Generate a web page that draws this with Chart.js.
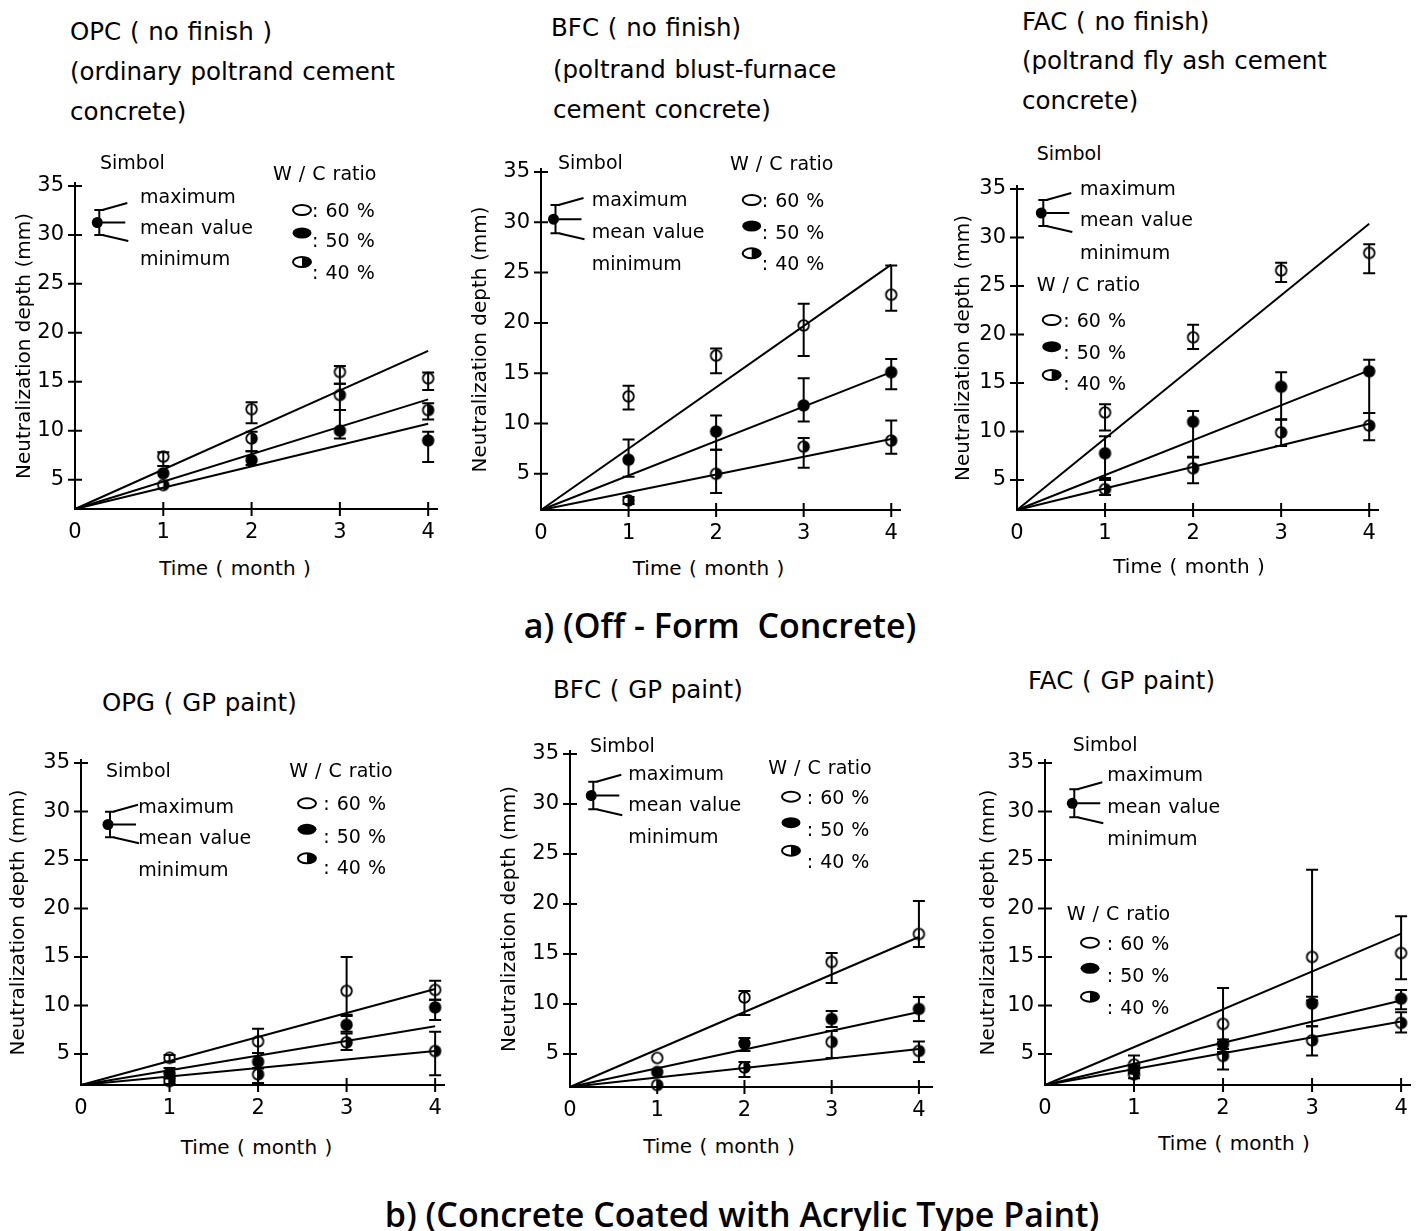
<!DOCTYPE html>
<html lang="en">
<head>
<meta charset="UTF-8" />
<title>Neutralization depth against time</title>
<script src="https://cdn.jsdelivr.net/npm/chart.js"></script>
<style>
  body { margin: 0; background: #fff; }
  #page { position: relative; width: 1420px; height: 1231px; overflow: hidden;
          font-family: "DejaVu Sans", sans-serif; color: #000; }
  #page canvas { position: absolute; }
  .txt { position: absolute; line-height: 1; white-space: pre; transform: translateY(-50%); }
  .ttl { font-size: 24.5px; word-spacing: 1px; }
  .leg { font-size: 19px; word-spacing: 1px; }
  .axt { font-size: 20px; word-spacing: 1px; transform: translate(-50%, -50%); }
  .cap { font-family: "Open Sans", sans-serif; font-weight: 600; font-size: 34px;
         transform: translate(-50%, -50%); }
  #glyphs { position: absolute; left: 0; top: 0; z-index: 2; }
</style>
</head>
<body>
<div id="page">
  <svg id="glyphs" width="1420" height="1231"></svg>
</div>

<script>
// ---- values ----
const months = [1, 2, 3, 4];
const xTicks = [0, 1, 2, 3, 4];
const yTicks = [5, 10, 15, 20, 25, 30, 35];
const ratioLabels = [": 60 %", ": 50 %", ": 40 %"];

// a) OPC (no finish)
const opcN_mean60 = [7.35, 12.2, 16.0, 15.35];
const opcN_max60  = [7.8, 12.9, 16.6, 15.95];
const opcN_min60  = [6.4, 10.75, 14.8, 14.15];
const opcN_mean50 = [5.65, 7.0, 10.0, 9.0];
const opcN_max50  = [5.65, 7.9, 12.1, 9.9];
const opcN_min50  = [5.65, 6.5, 9.2, 6.8];
const opcN_mean40 = [4.45, 9.2, 13.65, 12.1];
const opcN_max40  = [4.45, 9.9, 14.8, 12.8];
const opcN_min40  = [4.45, 7.9, 12.1, 11.15];
const opcN_fit    = [18.15, 13.2, 10.7];

// a) BFC (no finish)
const bfcN_mean60 = [12.7, 16.75, 19.75, 22.8];
const bfcN_max60  = [13.75, 17.45, 21.9, 25.7];
const bfcN_min60  = [11.4, 15.0, 16.7, 21.2];
const bfcN_mean50 = [6.4, 9.2, 11.8, 15.1];
const bfcN_max50  = [8.4, 10.8, 14.5, 16.4];
const bfcN_min50  = [4.7, 7.4, 10.2, 13.4];
const bfcN_mean40 = [2.35, 5.0, 7.7, 8.3];
const bfcN_max40  = [2.7, 7.4, 8.55, 10.3];
const bfcN_min40  = [2.0, 3.1, 5.6, 7.0];
const bfcN_fit    = [25.8, 15.1, 8.45];

// a) FAC (no finish)
const facN_mean60 = [11.95, 19.7, 26.6, 28.4];
const facN_max60  = [12.8, 21.0, 27.4, 29.3];
const facN_min60  = [10.1, 18.5, 25.4, 26.3];
const facN_mean50 = [7.75, 11.0, 14.6, 16.2];
const facN_max50  = [9.5, 12.1, 16.1, 17.4];
const facN_min50  = [5.2, 7.4, 11.2, 11.9];
const facN_mean40 = [4.05, 6.2, 9.9, 10.6];
const facN_max40  = [5.0, 7.3, 11.25, 11.9];
const facN_min40  = [3.45, 4.65, 8.5, 9.1];
const facN_fit    = [31.4, 16.3, 10.8];

// b) OPG (GP paint)
const opcG_mean60 = [4.6, 6.3, 11.5, 11.6];
const opcG_max60  = [4.9, 7.6, 15.0, 12.55];
const opcG_min60  = [4.2, 5.1, 9.05, 10.6];
const opcG_mean50 = [3.0, 4.2, 8.0, 9.8];
const opcG_max50  = [3.55, 5.1, 8.9, 10.6];
const opcG_min50  = [2.5, 3.55, 7.3, 8.5];
const opcG_mean40 = [2.2, 2.9, 6.2, 5.3];
const opcG_max40  = [2.5, 3.5, 7.1, 7.3];
const opcG_min40  = [1.9, 2.0, 5.4, 2.8];
const opcG_fit    = [11.7, 7.85, 5.3];

// b) BFC (GP paint)
const bfcG_mean60 = [4.6, 10.65, 14.2, 17.0];
const bfcG_max60  = [4.6, 11.3, 15.1, 20.3];
const bfcG_min60  = [4.6, 8.9, 12.1, 15.7];
const bfcG_mean50 = [3.2, 6.05, 8.5, 9.5];
const bfcG_max50  = [3.2, 6.6, 9.3, 10.7];
const bfcG_min50  = [3.2, 5.3, 7.7, 8.3];
const bfcG_mean40 = [1.9, 3.65, 6.2, 5.3];
const bfcG_max40  = [1.9, 4.2, 7.3, 6.25];
const bfcG_min40  = [1.9, 2.7, 4.6, 4.2];
const bfcG_fit    = [16.7, 9.2, 5.5];

// b) FAC (GP paint)
const facG_mean60 = [3.9, 8.1, 15.0, 15.4];
const facG_max60  = [4.85, 11.8, 24.0, 19.2];
const facG_min60  = [3.0, 5.5, 10.5, 12.7];
const facG_mean50 = [3.45, 6.0, 10.2, 10.7];
const facG_max50  = [3.8, 6.5, 10.9, 11.6];
const facG_min50  = [3.0, 5.2, 7.85, 9.6];
const facG_mean40 = [2.9, 4.8, 6.4, 8.2];
const facG_max40  = [3.3, 6.2, 7.85, 9.3];
const facG_min40  = [2.5, 3.4, 4.85, 7.2];
const facG_fit    = [17.4, 10.5, 8.35];

// ---- panel layout (page pixels) ----
const panels = [
  { mean: [opcN_mean60, opcN_mean50, opcN_mean40], max: [opcN_max60, opcN_max50, opcN_max40],
    min: [opcN_min60, opcN_min50, opcN_min40], fit: opcN_fit, yMin: 2.0, xMax: 4.1,
    area: { l: 75, r: 436.6, t: 183, b: 509.3 }, yGap: 50, xTitle: [235, 568],
    title: [[70, 32, "OPC ( no finish )"], [70, 72, "(ordinary poltrand cement"], [70, 112, "concrete)"]],
    simbol: [100, 162], bar: [99.3, 210, 235], legX: 140, legY: [196, 226.7, 258],
    wc: [273, 173], symX: 302, symY: [210, 233, 262], labX: 312, labY: [210, 240, 272] },
  { mean: [bfcN_mean60, bfcN_mean50, bfcN_mean40], max: [bfcN_max60, bfcN_max50, bfcN_max40],
    min: [bfcN_min60, bfcN_min50, bfcN_min40], fit: bfcN_fit, yMin: 1.4, xMax: 4.1,
    area: { l: 540.7, r: 899.5, t: 169.3, b: 510 }, yGap: 60, xTitle: [708.5, 568],
    title: [[551, 28, "BFC ( no finish)"], [553, 70, "(poltrand blust-furnace"], [553, 110, "cement concrete)"]],
    simbol: [558, 162], bar: [555.5, 205, 233.3], legX: 591.7, legY: [199.3, 230.7, 262.7],
    wc: [730, 162.7], symX: 751.7, symY: [200, 226, 253.3], labX: 761.7, labY: [200, 231.7, 263.3] },
  { mean: [facN_mean60, facN_mean50, facN_mean40], max: [facN_max60, facN_max50, facN_max40],
    min: [facN_min60, facN_min50, facN_min40], fit: facN_fit, yMin: 1.9, xMax: 4.1,
    area: { l: 1016.7, r: 1377.5, t: 185.7, b: 510 }, yGap: 53, xTitle: [1189, 566],
    title: [[1022, 22, "FAC ( no finish)"], [1022, 61, "(poltrand fly ash cement"], [1022, 101, "concrete)"]],
    simbol: [1036.7, 153], bar: [1043.3, 200, 226], legX: 1080, legY: [188.3, 219.3, 251.7],
    wc: [1036.7, 284], symX: 1051.7, symY: [320, 346.7, 375], labX: 1063.3, labY: [320, 351.7, 383.3] },
  { mean: [opcG_mean60, opcG_mean50, opcG_mean40], max: [opcG_max60, opcG_max50, opcG_max40],
    min: [opcG_min60, opcG_min50, opcG_min40], fit: opcG_fit, yMin: 1.8, xMax: 4.1,
    area: { l: 80.7, r: 444, t: 760, b: 1085 }, yGap: 62, xTitle: [256.5, 1147],
    title: [[102, 703, "OPG ( GP paint)"]],
    simbol: [106, 770], bar: [110, 811.7, 837.3], legX: 138.3, legY: [806, 836.7, 869.3],
    wc: [289.3, 770], symX: 307, symY: [803.3, 829.3, 858.3], labX: 323.3, labY: [803.3, 836, 867.3] },
  { mean: [bfcG_mean60, bfcG_mean50, bfcG_mean40], max: [bfcG_max60, bfcG_max50, bfcG_max40],
    min: [bfcG_min60, bfcG_min50, bfcG_min40], fit: bfcG_fit, yMin: 1.7, xMax: 4.15,
    area: { l: 570, r: 931.5, t: 750.5, b: 1086.5 }, yGap: 60, xTitle: [719, 1146],
    title: [[553, 690, "BFC ( GP paint)"]],
    simbol: [590, 745], bar: [593.3, 781.7, 809.3], legX: 628.3, legY: [772.7, 804, 836],
    wc: [768.3, 766.7], symX: 791, symY: [796.7, 822.7, 850.7], labX: 806.7, labY: [796.7, 829.3, 860.7] },
  { mean: [facG_mean60, facG_mean50, facG_mean40], max: [facG_max60, facG_max50, facG_max40],
    min: [facG_min60, facG_min50, facG_min40], fit: facG_fit, yMin: 1.8, xMax: 4.1,
    area: { l: 1045, r: 1409.9, t: 760, b: 1085 }, yGap: 56, xTitle: [1234, 1143],
    title: [[1028, 681, "FAC ( GP paint)"]],
    simbol: [1072.7, 744], bar: [1074.3, 789.3, 817.3], legX: 1107.3, legY: [774.3, 806, 838.3],
    wc: [1066.7, 912.7], symX: 1090, symY: [942.7, 968.3, 996.7], labX: 1106.7, labY: [942.7, 975, 1006.7] }
];

const page = document.getElementById("page");
const svg = document.getElementById("glyphs");
const NS = "http://www.w3.org/2000/svg";

function addText(x, y, text, cls) {
  const d = document.createElement("div");
  d.className = "txt " + cls;
  d.style.left = x + "px";
  d.style.top = y + "px";
  d.textContent = text;
  page.appendChild(d);
}

function addSvg(tag, attrs) {
  const el = document.createElementNS(NS, tag);
  for (const k in attrs) el.setAttribute(k, attrs[k]);
  svg.appendChild(el);
}

// marker images: open, filled, half filled (right half black)
function makeMarker(kind) {
  const c = document.createElement("canvas");
  c.width = 15; c.height = 15;
  const g = c.getContext("2d");
  g.lineWidth = 1.8;
  g.beginPath();
  g.arc(7.5, 7.5, 5.3, 0, Math.PI * 2);
  if (kind === "filled") g.fill();
  g.stroke();
  if (kind === "half") {
    g.beginPath();
    g.arc(7.5, 7.5, 5.3, -Math.PI / 2, Math.PI / 2);
    g.closePath();
    g.fill();
  }
  return c;
}
const markers = [makeMarker("open"), makeMarker("filled"), makeMarker("half")];

// max / min bars, drawn over the markers
const errorBars = {
  id: "errorBars",
  afterDatasetsDraw(chart) {
    const { ctx, scales: { x, y } } = chart;
    ctx.save();
    ctx.strokeStyle = "#000";
    ctx.lineWidth = 2;
    chart.data.datasets.forEach((ds) => {
      if (!ds.errMax) return;
      ds.data.forEach((p, i) => {
        if (ds.errMax[i] - ds.errMin[i] < 0.05) return;
        const px = x.getPixelForValue(p.x);
        const top = y.getPixelForValue(ds.errMax[i]);
        const bot = y.getPixelForValue(ds.errMin[i]);
        ctx.beginPath();
        ctx.moveTo(px, top); ctx.lineTo(px, bot);
        ctx.moveTo(px - 6, top); ctx.lineTo(px + 6, top);
        ctx.moveTo(px - 6, bot); ctx.lineTo(px + 6, bot);
        ctx.stroke();
      });
    });
    ctx.restore();
  }
};

// tick marks that cross the axes
const crossTicks = {
  id: "crossTicks",
  afterDraw(chart) {
    const { ctx, chartArea: a, scales: { x, y } } = chart;
    ctx.save();
    ctx.strokeStyle = "#000";
    ctx.lineWidth = 2;
    ctx.beginPath();
    months.forEach((m) => {
      const px = x.getPixelForValue(m);
      ctx.moveTo(px, a.bottom - 7); ctx.lineTo(px, a.bottom + 7);
    });
    yTicks.forEach((v) => {
      const py = y.getPixelForValue(v);
      ctx.moveTo(a.left - 7, py); ctx.lineTo(a.left + 7, py);
    });
    ctx.stroke();
    ctx.restore();
  }
};

Chart.defaults.font.family = '"DejaVu Sans", sans-serif';
Chart.defaults.color = "#000";

panels.forEach((p) => {
  const a = p.area;
  const L = a.l - p.yGap - 12, T = a.t - 20;
  const R = a.r + 15, B = a.b + 45;
  const canvas = document.createElement("canvas");
  canvas.width = Math.round(R - L);
  canvas.height = Math.round(B - T);
  canvas.style.left = L + "px";
  canvas.style.top = T + "px";
  page.appendChild(canvas);

  const datasets = [];
  for (let s = 0; s < 3; s++) {
    datasets.push({
      data: months.map((m, i) => ({ x: m, y: p.mean[s][i] })),
      errMax: p.max[s], errMin: p.min[s],
      pointStyle: markers[s], pointRadius: 6, showLine: false, clip: false
    });
  }
  for (let s = 0; s < 3; s++) {
    datasets.push({
      data: [{ x: 0, y: p.yMin }, { x: 4, y: p.fit[s] }],
      showLine: true, borderColor: "#000", borderWidth: 2, pointRadius: 0, clip: false
    });
  }

  new Chart(canvas, {
    type: "scatter",
    data: { datasets },
    options: {
      responsive: false,
      animation: false,
      events: [],
      layout: { padding: { left: 0, top: a.t - T, right: R - a.r, bottom: 0 } },
      plugins: { legend: { display: false }, tooltip: { enabled: false } },
      scales: {
        x: {
          type: "linear", min: 0, max: p.xMax,
          afterBuildTicks: (s) => { s.ticks = xTicks.map((v) => ({ value: v })); },
          afterFit: (s) => { s.height = B - a.b; s.paddingLeft = 0; s.paddingRight = 0; },
          grid: { display: true, drawOnChartArea: false, drawTicks: false },
          border: { display: true, color: "#000", width: 2 },
          ticks: { font: { size: 21 }, padding: 11, maxRotation: 0, autoSkip: false },
          title: { display: false }
        },
        y: {
          type: "linear", min: p.yMin, max: 35.3,
          afterBuildTicks: (s) => { s.ticks = yTicks.map((v) => ({ value: v })); },
          afterFit: (s) => { s.width = a.l - L; s.paddingTop = 0; s.paddingBottom = 0; },
          grid: { display: true, drawOnChartArea: false, drawTicks: false },
          border: { display: true, color: "#000", width: 2 },
          ticks: { font: { size: 21 }, padding: 11, autoSkip: false },
          title: { display: true, text: "Neutralization depth (mm)", font: { size: 20 }, padding: 0 }
        }
      }
    },
    plugins: [errorBars, crossTicks]
  });

  // titles and the two keys
  p.title.forEach((t) => addText(t[0], t[1], t[2], "ttl"));
  addText(p.xTitle[0], p.xTitle[1], "Time ( month )", "axt");
  addText(p.simbol[0], p.simbol[1], "Simbol", "leg");
  ["maximum", "mean value", "minimum"].forEach((t, i) => addText(p.legX, p.legY[i], t, "leg"));
  addText(p.wc[0], p.wc[1], "W / C ratio", "leg");
  ratioLabels.forEach((t, i) => addText(p.labX, p.labY[i], t, "leg"));

  const [bx, bt, bb] = p.bar;
  const bm = (bt + bb) / 2;
  const line = { stroke: "#000", "stroke-width": 2 };
  addSvg("path", Object.assign({ fill: "none",
    d: `M${bx},${bt}V${bb}M${bx - 5},${bt}H${bx + 5}M${bx - 5},${bb}H${bx + 5}` +
       `M${bx + 3},${bt}L${bx + 28},${bt - 7}M${bx + 3},${bm}H${bx + 26}M${bx + 3},${bb}L${bx + 29},${bb + 6}` }, line));
  addSvg("circle", { cx: bx - 2, cy: bm, r: 5.5, fill: "#000" });

  const sx = p.symX;
  addSvg("ellipse", { cx: sx, cy: p.symY[0], rx: 9, ry: 5, fill: "#fff", stroke: "#000", "stroke-width": 2 });
  addSvg("ellipse", { cx: sx, cy: p.symY[1], rx: 9.5, ry: 5.5, fill: "#000" });
  addSvg("ellipse", { cx: sx, cy: p.symY[2], rx: 9, ry: 5, fill: "#fff", stroke: "#000", "stroke-width": 2 });
  addSvg("path", { fill: "#000",
    d: `M${sx},${p.symY[2] - 5}A9,5 0 0 1 ${sx},${p.symY[2] + 5}Z` });
});

// section captions
[[720, 625, "a) (Off - Form  Concrete)"], [742, 1214, "b) (Concrete Coated with Acrylic Type Paint)"]]
  .forEach((c) => addText(c[0], c[1], c[2], "cap"));
</script>
</body>
</html>
